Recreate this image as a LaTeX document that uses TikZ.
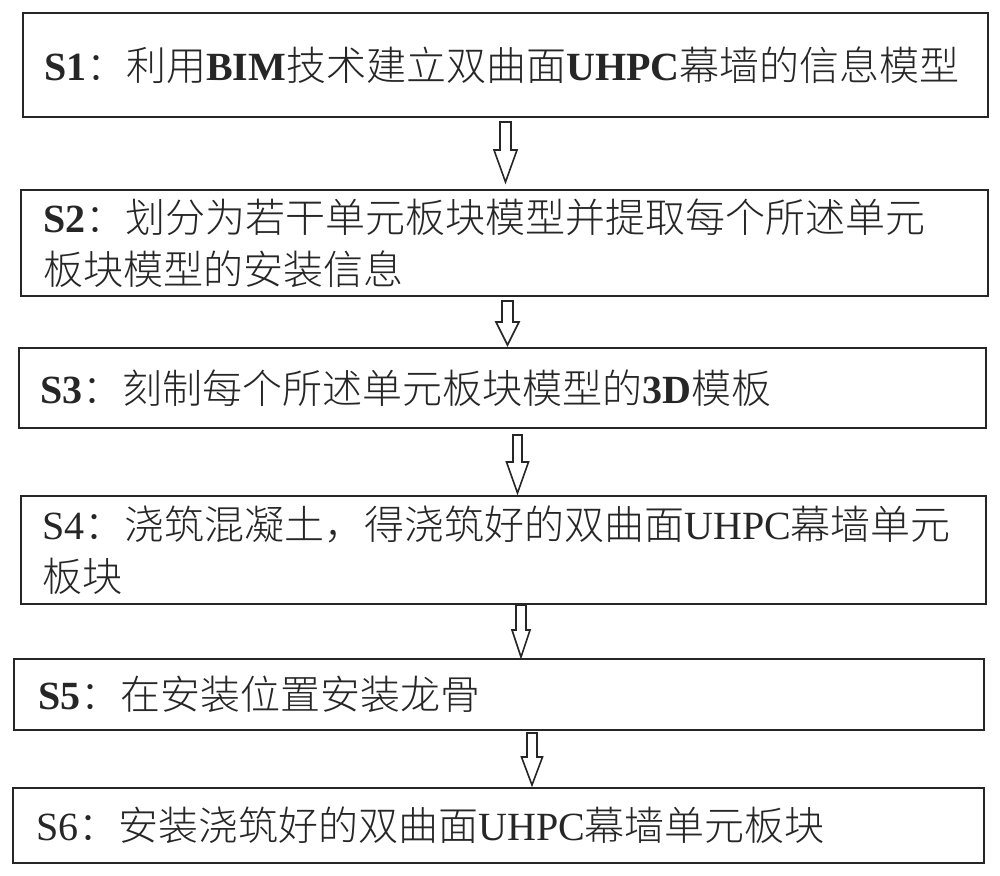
\documentclass[tikz,border=0pt]{standalone}
\usepackage{fontspec}
\setmainfont{Liberation Serif}
\newfontfamily\cjk{Noto Sans CJK SC Light}
\usetikzlibrary{calc}
\tikzset{
  stepbox/.style={draw=black!85, line width=2pt, anchor=north west, inner ysep=0pt,
    align=left, text=black!85, font=\fontsize{40}{52}\selectfont},
  arrowline/.style={draw=black!85, line width=1.6pt, line join=miter, fill=white}
}
\newcommand\hollowarr[8]{%
  \draw[arrowline] let \p1=($(#1.south)+(#3,#6)$), \p2=($(#2.north)+(#3,-#8)$) in
    ({\x1-#4pt},\y1) -- ({\x1+#4pt},\y1) -- ({\x1+#4pt},{\y2+#7pt}) --
    ({\x1+#5pt},{\y2+#7pt}) -- (\x1,\y2) -- ({\x1-#5pt},{\y2+#7pt}) --
    ({\x1-#4pt},{\y2+#7pt}) -- cycle;}
\begin{document}
\begin{tikzpicture}[x=1pt,y=-1pt]
\useasboundingbox[fill=white] (0,0) rectangle (1000,875);

\node[stepbox, inner xsep=21pt, text width=923pt, minimum height=104pt] (b1) at (22,12)
  {\textbf{S1}{\cjk ：利用}\textbf{BIM}{\cjk 技术建立双曲面}\textbf{UHPC}{\cjk 幕墙的信息模型}};
\node[stepbox, inner xsep=22pt, text width=923pt, minimum height=106pt] (b2) at (20,189)
  {\textbf{S2}{\cjk ：划分为若干单元板块模型并提取每个所述单元}\\{\cjk 板块模型的安装信息}};
\node[stepbox, inner xsep=21pt, text width=925pt, minimum height=80pt] (b3) at (18,347)
  {\textbf{S3}{\cjk ：刻制每个所述单元板块模型的}\textbf{3D}{\cjk 模板}};
\node[stepbox, inner xsep=21pt, text width=923pt, minimum height=108pt] (b4) at (20,495)
  {S4{\cjk ：浇筑混凝土，得浇筑好的双曲面}UHPC{\cjk 幕墙单元}\\{\cjk 板块}};
\node[stepbox, inner xsep=24pt, text width=922pt, minimum height=71pt] (b5) at (13,658)
  {\textbf{S5}{\cjk ：在安装位置安装龙骨}};
\node[stepbox, inner xsep=23pt, text width=925pt, minimum height=75pt] (b6) at (12,787)
  {S6{\cjk ：安装浇筑好的双曲面}UHPC{\cjk 幕墙单元板块}};

\hollowarr{b1}{b2}{0}{5.5}{11.5}{4}{32}{7}
\hollowarr{b2}{b3}{3}{5.5}{11.5}{4}{23}{2}
\hollowarr{b3}{b4}{15}{4.5}{11}{6}{31}{2}
\hollowarr{b4}{b5}{17.5}{5}{9}{0}{27}{1}
\hollowarr{b5}{b6}{33}{5}{10.5}{2}{28}{2}
\end{tikzpicture}
\end{document}
